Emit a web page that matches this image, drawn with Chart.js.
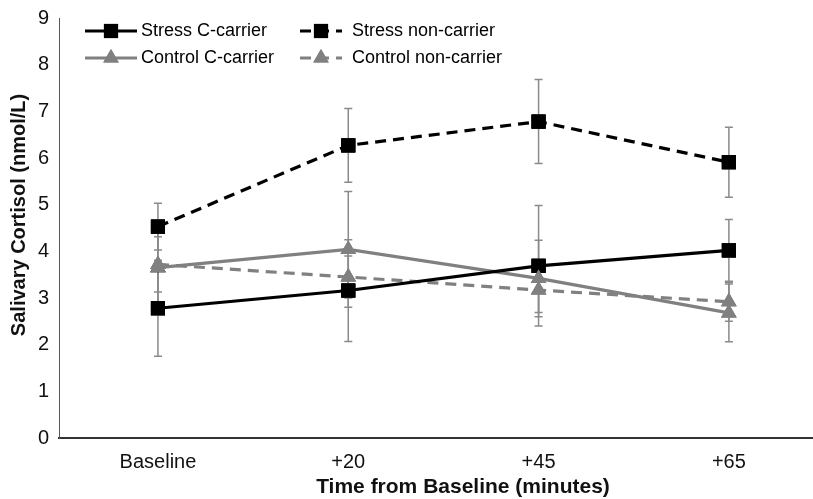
<!DOCTYPE html>
<html>
<head>
<meta charset="utf-8">
<script src="https://cdn.jsdelivr.net/npm/chart.js@4.4.1/dist/chart.umd.min.js"></script>
<style>
  html, body { margin: 0; padding: 0; background: #fff; }
  #wrap { width: 813px; height: 499px; position: relative; }
</style>
</head>
<body>
<div id="wrap"><canvas id="cortisolChart"></canvas></div>
<script>
// data
const categories = ['Baseline', '+20', '+45', '+65'];
const yTicks = [0, 1, 2, 3, 4, 5, 6, 7, 8, 9];

const stressC = [2.78, 3.16, 3.69, 4.02];
const stressCErr = [1.03, 1.09, 1.29, 0.66];
const stressNon = [4.53, 6.27, 6.78, 5.91];
const stressNonErr = [0.5, 0.79, 0.9, 0.75];
const controlC = [3.65, 4.04, 3.42, 2.68];
const controlCErr = [0.87, 1.24, 0.82, 0.62];
const controlNon = [3.72, 3.45, 3.17, 2.92];
const controlNonErr = [0.59, 0.45, 0.48, 0.42];

const FONT = "'Liberation Sans', Arial, sans-serif";
const GRAY = '#808080';

function pts(arr) {
    return arr.map((v, i) => ({ x: i, y: v }));
}

const datasets = [
    { label: 'Stress C-carrier', data: pts(stressC), err: stressCErr, borderColor: '#000', backgroundColor: '#000',
      borderDash: [], pointStyle: 'rect', pointRadius: 10, col: 0, row: 0 },
    { label: 'Stress non-carrier', data: pts(stressNon), err: stressNonErr, borderColor: '#000', backgroundColor: '#000',
      borderDash: [11, 7], pointStyle: 'rect', pointRadius: 10, col: 1, row: 0 },
    { label: 'Control C-carrier', data: pts(controlC), err: controlCErr, borderColor: GRAY, backgroundColor: GRAY,
      borderDash: [], pointStyle: 'triangle', pointRadius: 9, col: 0, row: 1 },
    { label: 'Control non-carrier', data: pts(controlNon), err: controlNonErr, borderColor: GRAY, backgroundColor: GRAY,
      borderDash: [11, 7], pointStyle: 'triangle', pointRadius: 9, col: 1, row: 1 }
];
datasets.forEach(d => {
    d.borderWidth = 3.2;
    d.pointBorderWidth = 0;
    d.pointHoverRadius = d.pointRadius;
    d.tension = 0;
    d.fill = false;
});

// error bars, then markers drawn again on top
const errorBars = {
    id: 'errorBars',
    afterDatasetsDraw(chart) {
        const ctx = chart.ctx;
        const y = chart.scales.y;
        ctx.save();
        ctx.strokeStyle = '#8a8a8a';
        ctx.lineWidth = 1.5;
        chart.data.datasets.forEach((ds, di) => {
            const meta = chart.getDatasetMeta(di);
            meta.data.forEach((p, i) => {
                const v = ds.data[i].y, e = ds.err[i];
                const top = y.getPixelForValue(v + e), bot = y.getPixelForValue(v - e);
                ctx.beginPath();
                ctx.moveTo(p.x, top); ctx.lineTo(p.x, bot);
                ctx.moveTo(p.x - 4, top); ctx.lineTo(p.x + 4, top);
                ctx.moveTo(p.x - 4, bot); ctx.lineTo(p.x + 4, bot);
                ctx.stroke();
            });
        });
        chart.data.datasets.forEach((ds, di) => {
            const meta = chart.getDatasetMeta(di);
            meta.data.forEach(p => {
                Chart.helpers.drawPoint(ctx, { pointStyle: ds.pointStyle, radius: ds.pointRadius, borderWidth: 0 }, p.x, p.y);
                ctx.fillStyle = ds.backgroundColor;
                ctx.fill();
            });
        });
        ctx.restore();
    }
};

// legend inside the plot (two columns) + axis titles placed like the original
const lineLegend = {
    id: 'lineLegend',
    afterDraw(chart) {
        const ctx = chart.ctx;
        const colX = [85, 300];
        const rowY = [31, 58];
        ctx.save();
        chart.data.datasets.forEach(ds => {
            const x0 = colX[ds.col], yy = rowY[ds.row];
            const len = ds.col === 0 ? 52 : 42;
            ctx.strokeStyle = ds.borderColor;
            ctx.lineWidth = 3.2;
            ctx.setLineDash(ds.borderDash);
            ctx.beginPath();
            ctx.moveTo(x0, yy); ctx.lineTo(x0 + len, yy);
            ctx.stroke();
            ctx.setLineDash([]);
            ctx.fillStyle = ds.backgroundColor;
            Chart.helpers.drawPoint(ctx, { pointStyle: ds.pointStyle, radius: ds.pointRadius, borderWidth: 0 }, x0 + len / 2, yy);
            ctx.fill();
            ctx.fillStyle = '#000';
            ctx.font = '18px ' + FONT;
            ctx.textBaseline = 'middle';
            ctx.textAlign = 'left';
            ctx.fillText(ds.label, x0 + len + 4 + (ds.col === 1 ? 6 : 0), yy);
        });

        ctx.fillStyle = '#111';
        ctx.textAlign = 'center';
        ctx.textBaseline = 'middle';
        ctx.font = 'bold 21px ' + FONT;
        ctx.fillText('Time from Baseline (minutes)', 463, 487);
        ctx.translate(19, 215);
        ctx.rotate(-Math.PI / 2);
        ctx.font = 'bold 20px ' + FONT;
        ctx.fillText('Salivary Cortisol (nmol/L)', 0, 0);
        ctx.restore();
    }
};

const ctx = document.getElementById('cortisolChart').getContext('2d');
new Chart(ctx, {
    type: 'line',
    data: { datasets: datasets },
    options: {
        responsive: true,
        maintainAspectRatio: false,
        animation: false,
        layout: { autoPadding: false, padding: { top: 18, right: 0, left: 0, bottom: 0 } },
        plugins: { legend: { display: false }, tooltip: { enabled: false } },
        scales: {
            x: {
                type: 'linear',
                min: -0.52,
                max: 3.442,
                afterBuildTicks: s => { s.ticks = categories.map((c, i) => ({ value: i })); },
                afterFit: s => { s.height = 61; s.paddingLeft = 0; s.paddingRight = 0; },
                grid: { display: false, drawTicks: false },
                border: { display: true, color: '#333', width: 2 },
                ticks: {
                    padding: 12,
                    color: '#111',
                    font: { family: FONT, size: 20 },
                    callback: v => categories[v]
                }
            },
            y: {
                min: 0,
                max: 9,
                afterBuildTicks: s => { s.ticks = yTicks.map(v => ({ value: v })); },
                afterFit: s => { s.width = 59; s.paddingTop = 0; s.paddingBottom = 0; },
                grid: { display: false, drawTicks: false },
                border: { display: true, color: '#555', width: 1 },
                ticks: {
                    padding: 10,
                    color: '#111',
                    font: { family: FONT, size: 20 }
                }
            }
        }
    },
    plugins: [errorBars, lineLegend]
});
</script>
</body>
</html>
